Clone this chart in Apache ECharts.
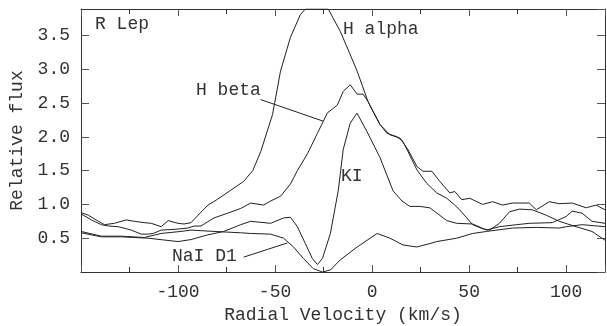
<!DOCTYPE html>
<html>
<head>
<meta charset="utf-8">
<script src="https://cdn.jsdelivr.net/npm/echarts@6/dist/echarts.min.js"></script>
<style>
  html, body { margin: 0; padding: 0; background: #fff; }
  #chart { width: 607px; height: 326px; }
</style>
</head>
<body>
<div id="chart"></div>
<script>
// velocities (km/s) and relative flux
const haVel = [-150, -146.2, -141, -137.9, -132.8, -126.7, -122.6, -117.4, -113.8, -108.7, -105.1, -100, -96.9, -93.3, -89.7, -84.6, -80, -72.8, -66.2, -61.5, -57.4, -51.3, -47.2, -42.1, -36.9, -34.4, -31.8, -22.6, -20, -16.4, -11.8, -7.7, -2.1, 4.1, 9.2, 14.4, 18.5, 23.1, 26.2, 30.8, 34.9, 40, 42.6, 46.2, 50.3, 56.9, 62.1, 67.2, 72.3, 81, 84.6, 91.3, 96.4, 103.1, 110.3, 115.4, 120];
const haFlux = [0.88, 0.84, 0.75, 0.70, 0.72, 0.77, 0.75, 0.73, 0.72, 0.67, 0.76, 0.72, 0.71, 0.73, 0.84, 0.99, 1.07, 1.21, 1.34, 1.50, 1.78, 2.33, 2.97, 3.47, 3.81, 3.89, 3.89, 3.89, 3.75, 3.56, 3.25, 2.97, 2.52, 2.18, 2.03, 1.98, 1.81, 1.56, 1.49, 1.49, 1.34, 1.17, 1.19, 1.07, 1.09, 1.00, 1.04, 0.99, 1.02, 1.02, 0.92, 1.04, 1.01, 1.02, 0.95, 0.99, 0.92];

const hbVel = [-150, -144.6, -139.5, -135.9, -130.8, -124.1, -119, -115.4, -112.8, -108.7, -102, -94.9, -91.8, -88.2, -81.5, -74.4, -67.7, -62.6, -55.9, -52.3, -47.2, -42.1, -38.5, -33.3, -28.2, -23.1, -17.9, -14.9, -11.3, -7.7, -4.6, -2.1, 0.5, 4.1, 7.7, 12.8, 15.9, 18.5, 23.1, 28.2, 33.3, 38.5, 42.6, 45.1, 51.8, 56.9, 60.5, 65.6, 70.8, 75.9, 82.6, 89.7, 96.4, 105.1, 113.3, 120];
const hbFlux = [0.86, 0.77, 0.70, 0.68, 0.67, 0.62, 0.56, 0.56, 0.57, 0.62, 0.63, 0.65, 0.68, 0.68, 0.80, 0.87, 0.94, 1.02, 0.99, 1.05, 1.12, 1.30, 1.50, 1.75, 2.05, 2.35, 2.47, 2.67, 2.77, 2.63, 2.63, 2.52, 2.37, 2.18, 2.05, 2.00, 1.93, 1.78, 1.51, 1.31, 1.17, 1.09, 0.99, 0.92, 0.70, 0.64, 0.62, 0.72, 0.89, 0.93, 0.92, 0.84, 0.75, 0.67, 0.60, 0.47];

const kiVel = [-150, -139.5, -129.2, -115.4, -100, -93.3, -84.6, -76.4, -67.7, -62.6, -52.3, -45.6, -42.1, -38.5, -34.4, -30.8, -28.2, -25.6, -21.5, -17.4, -14.9, -11.3, -7.8, -2.7, 4.1, 10.8, 15.4, 19.5, 24.6, 29.7, 38.5, 43.6, 51.8, 59, 65.6, 74.4, 81, 92.8, 100, 103.1, 108.2, 113.3, 120];
const kiFlux = [0.58, 0.52, 0.52, 0.50, 0.45, 0.48, 0.55, 0.60, 0.70, 0.75, 0.72, 0.80, 0.81, 0.67, 0.42, 0.20, 0.11, 0.20, 0.57, 1.21, 1.81, 2.20, 2.35, 2.08, 1.69, 1.20, 1.05, 0.97, 0.97, 0.95, 0.76, 0.72, 0.71, 0.62, 0.67, 0.70, 0.72, 0.73, 0.82, 0.90, 0.87, 0.75, 0.72];

const naVel = [-150, -139.5, -129.2, -117.4, -108.7, -98.5, -93.3, -81.5, -67.7, -62.6, -52.3, -45.6, -40.5, -35.4, -30.3, -25.6, -21.5, -16.4, -7.7, 2.6, 9.2, 15.9, 23.1, 29.7, 33.3, 43.6, 51.8, 59, 72.3, 84.6, 96.4, 100, 108.2, 120];
const naFlux = [0.60, 0.53, 0.53, 0.51, 0.57, 0.60, 0.62, 0.60, 0.58, 0.57, 0.56, 0.50, 0.37, 0.20, 0.05, 0.00, 0.03, 0.18, 0.37, 0.57, 0.50, 0.40, 0.37, 0.42, 0.45, 0.50, 0.57, 0.60, 0.65, 0.66, 0.65, 0.67, 0.70, 0.67];

// pointer lines for the line labels, in data units
const hbPointer = [[-57.4, 2.55], [-25.1, 2.23]];
const naPointer = [[-66.2, 0.22], [-43.6, 0.43]];

const ink = '#333';
const font = 'Liberation Mono, Courier New, monospace';

function pairs(xs, ys) {
  return xs.map((x, i) => [x, ys[i]]);
}

function spectrum(name, xs, ys, pointer) {
  const s = {
    name: name,
    type: 'line',
    data: pairs(xs, ys),
    symbol: 'none',
    clip: true,
    lineStyle: { color: '#222', width: 1 },
    silent: true,
  };
  if (pointer) {
    s.markLine = {
      silent: true,
      symbol: 'none',
      label: { show: false },
      lineStyle: { color: '#222', width: 1, type: 'solid' },
      data: [[{ coord: pointer[0] }, { coord: pointer[1] }]],
    };
  }
  return s;
}

const chart = echarts.init(document.getElementById('chart'));

const axisLine = { show: true, onZero: false, lineStyle: { color: '#333', width: 1 } };
const tick = { inside: true, length: 7, lineStyle: { color: '#555' } };
const minor = { show: true, splitNumber: 2, length: 5, lineStyle: { color: '#333' } };

chart.setOption({
  animation: false,
  backgroundColor: '#fff',
  grid: { left: 81, right: 2, top: 9, bottom: 54, containLabel: false, outerBoundsMode: 'none' },
  xAxis: [
    {
      type: 'value',
      min: -150,
      max: 120,
      interval: 50,
      name: 'Radial Velocity (km/s)',
      nameLocation: 'middle',
      nameGap: 33,
      nameTextStyle: { fontFamily: font, fontSize: 18, color: ink },
      axisLine: axisLine,
      axisTick: tick,
      minorTick: minor,
      splitLine: { show: false },
      axisLabel: {
        showMinLabel: false,
        showMaxLabel: false,
        fontFamily: font,
        fontSize: 18,
        color: ink,
        margin: 11,
      },
    },
    {
      type: 'value',
      position: 'top',
      min: -150,
      max: 120,
      interval: 50,
      axisLine: axisLine,
      axisTick: tick,
      minorTick: minor,
      splitLine: { show: false },
      axisLabel: { show: false },
    },
  ],
  yAxis: [
    {
      type: 'value',
      min: 0,
      max: 3.89,
      interval: 0.5,
      name: 'Relative flux',
      nameLocation: 'middle',
      nameGap: 49,
      nameTextStyle: { fontFamily: font, fontSize: 18, color: ink },
      axisLine: axisLine,
      axisTick: { inside: true, length: 8, lineStyle: { color: '#555' } },
      splitLine: { show: false },
      axisLabel: {
        showMinLabel: false,
        showMaxLabel: false,
        fontFamily: font,
        fontSize: 18,
        color: ink,
        margin: 11,
        formatter: (v) => v.toFixed(1),
      },
    },
    {
      type: 'value',
      position: 'right',
      min: 0,
      max: 3.89,
      interval: 0.5,
      axisLine: axisLine,
      axisTick: { inside: true, length: 8, lineStyle: { color: '#555' } },
      splitLine: { show: false },
      axisLabel: { show: false },
    },
  ],
  series: [
    spectrum('H alpha', haVel, haFlux),
    spectrum('H beta', hbVel, hbFlux, hbPointer),
    spectrum('KI', kiVel, kiFlux),
    spectrum('NaI D1', naVel, naFlux, naPointer),
  ],
  graphic: [
    { type: 'text', left: 95, top: 15, style: { text: 'R Lep', font: '18px ' + font, fill: ink } },
    { type: 'text', left: 343, top: 20, style: { text: 'H alpha', font: '18px ' + font, fill: ink } },
    { type: 'text', left: 196, top: 81, style: { text: 'H beta', font: '18px ' + font, fill: ink } },
    { type: 'text', left: 341, top: 167, style: { text: 'KI', font: '18px ' + font, fill: ink } },
    { type: 'text', left: 172, top: 247, style: { text: 'NaI D1', font: '18px ' + font, fill: ink } },
  ],
});
</script>
</body>
</html>
